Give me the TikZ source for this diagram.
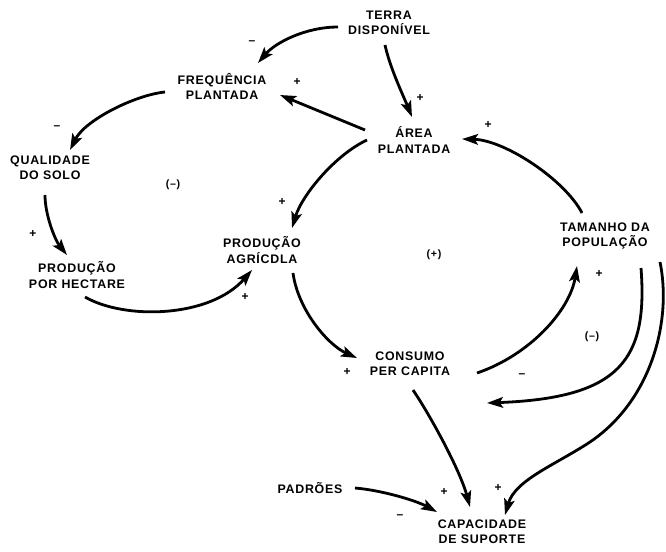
\documentclass[tikz,border=0pt]{standalone}
\usepackage{fontspec}
\setmainfont{Liberation Sans}[LetterSpace=6]
\usetikzlibrary{arrows.meta,calc}
\tikzset{
 lab/.style={font=\fontsize{9.3}{11.3}\selectfont\bfseries, align=center, inner sep=0pt},
 sgn/.style={font=\fontsize{9}{10}\selectfont\bfseries, inner sep=0pt},
 loopl/.style={font=\fontsize{8}{9}\selectfont\bfseries, inner sep=0pt},
 arr/.style={line width=2.1pt, -{Stealth[length=12pt,width=8pt,inset=2.5pt]}},
}
\begin{document}
\begin{tikzpicture}[x=0.75pt,y=-0.75pt]
\useasboundingbox[fill=white] (0,0) rectangle (666,551);
% nodes
\node[lab] (terra) at (389,23) {TERRA\\DISPONÍVEL};
\node[lab] (freq) at (222,86) {FREQUÊNCIA\\PLANTADA};
\node[lab] (area) at (414,140) {ÁREA\\PLANTADA};
\node[lab] (qual) at (50,168) {QUALIDADE\\DO SOLO};
\node[lab] (prodha) at (77,275) {PRODUÇÃO\\POR HECTARE};
\node[lab] (prodag) at (262,250) {PRODUÇÃO\\AGRÍCDLA};
\node[lab] (tam) at (605,236) {TAMANHO DA\\POPULAÇÃO};
\node[lab] (cons) at (410,364) {CONSUMO\\PER CAPITA};
\node[lab] (padr) at (310,488) {PADRÕES};
\node[lab] (cap) at (482,532) {CAPACIDADE\\DE SUPORTE};
% loop labels
\node[loopl] (l1) at (173,185) {(–)};
\node[loopl] (l2) at (434,255) {(+)};
\node[loopl] (l3) at (592,337) {(–)};
% connectors
\draw[arr] ($(terra)+(-51,4)$) .. controls (305,27) and (275,43) .. ($(freq)+(36,-23)$);
\draw[arr] ($(terra)+(-4,22)$) .. controls (390,68) and (403,95) .. ($(area)+(-2,-23)$);
\draw[arr] ($(area)+(-49,-10)$) -- ($(freq)+(58,9)$);
\draw[arr] ($(freq)+(-57,6)$) .. controls (135,95) and (85,120) .. ($(qual)+(20,-18)$);
\draw[arr] ($(qual)+(-5,27)$) .. controls (45,215) and (55,240) .. ($(prodha)+(-10,-20)$);
\draw[arr] ($(prodha)+(8,22)$) .. controls (125,320) and (210,318) .. ($(prodag)+(-10,20)$);
\draw[arr] ($(area)+(-47,0)$) .. controls (335,155) and (302,195) .. ($(prodag)+(30,-22)$);
\draw[arr] ($(prodag)+(31,23)$) .. controls (298,310) and (328,345) .. ($(cons)+(-53,-6)$);
\draw[arr] ($(tam)+(-23,-23)$) .. controls (565,180) and (505,140) .. ($(area)+(48,-1)$);
\draw[arr] ($(cons)+(67,9)$) .. controls (530,355) and (570,310) .. ($(tam)+(-28,30)$);
\draw[arr] ($(tam)+(36,32)$) .. controls (648,360) and (620,398) .. ($(cons)+(77,39)$);
\coordinate (bend) at (590,442);
\draw[arr] ($(tam)+(55,26)$) .. controls (672,320) and (652,400) .. (bend)
  .. controls (555,465) and (515,480) .. ($(cap)+(23,-17)$);
\draw[arr] ($(cons)+(3,26)$) .. controls (430,415) and (460,470) .. ($(cap)+(-12,-25)$);
\draw[arr] ($(padr)+(45,0)$) .. controls (380,490) and (415,500) .. ($(cap)+(-45,-20)$);
% signs
\node[sgn] (s1) at (252,43) {–};
\node[sgn] (s2) at (420,98) {+};
\node[sgn] (s3) at (297,82) {+};
\node[sgn] (s4) at (57,128) {–};
\node[sgn] (s5) at (33,234) {+};
\node[sgn] (s6) at (245,297) {+};
\node[sgn] (s7) at (282,202) {+};
\node[sgn] (s8) at (347,372) {+};
\node[sgn] (s9) at (488,125) {+};
\node[sgn] (s10) at (599,274) {+};
\node[sgn] (s11) at (522,376) {–};
\node[sgn] (s12) at (498,488) {+};
\node[sgn] (s13) at (444,492) {+};
\node[sgn] (s14) at (400,517) {–};
\end{tikzpicture}
\end{document}
